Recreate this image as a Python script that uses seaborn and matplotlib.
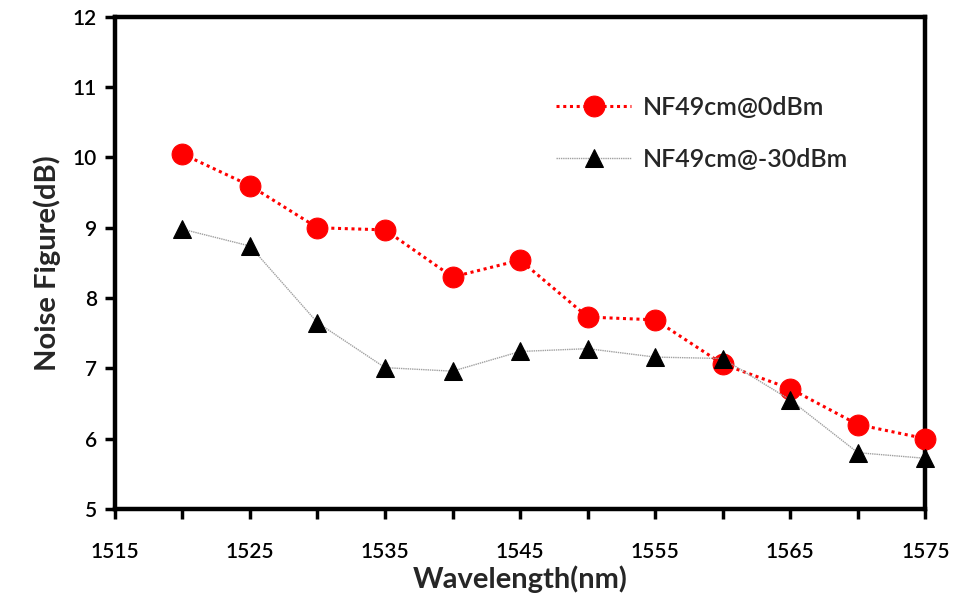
import matplotlib
matplotlib.use("Agg")
import matplotlib.pyplot as plt
import seaborn as sns
import pandas as pd
from matplotlib.ticker import MultipleLocator, FuncFormatter

wavelength = [1520, 1525, 1530, 1535, 1540, 1545, 1550, 1555, 1560, 1565, 1570, 1575]
nf_0dbm = [10.05, 9.60, 9.00, 8.97, 8.30, 8.54, 7.73, 7.69, 7.06, 6.71, 6.20, 6.00]
nf_m30dbm = [8.98, 8.74, 7.65, 7.01, 6.96, 7.24, 7.28, 7.16, 7.14, 6.55, 5.80, 5.72]
series_names = ["NF49cm@0dBm", "NF49cm@-30dBm"]

sns.set_theme(style="white")
plt.rcParams["font.family"] = ["Lato", "DejaVu Sans"]
plt.rcParams["font.weight"] = "semibold"

fig = plt.figure(figsize=(9.57, 6.03), dpi=100)
ax = fig.add_axes([0.120, 0.156, 0.847, 0.816])

df0 = pd.DataFrame({"wl": wavelength, "nf": nf_0dbm})
df1 = pd.DataFrame({"wl": wavelength, "nf": nf_m30dbm})

sns.lineplot(data=df0, x="wl", y="nf", ax=ax, color="#ff0000", linestyle=(0, (1, 1.2)),
             linewidth=2.2, marker="o", markersize=15, markeredgecolor="#ff0000",
             markerfacecolor="#ff0000", label=series_names[0], zorder=3, clip_on=False)
sns.lineplot(data=df1, x="wl", y="nf", ax=ax, color="#a0a0a0", linestyle=(0, (1, 0.6)),
             linewidth=1.0, marker="^", markersize=12.5, markeredgecolor="black",
             markerfacecolor="black", label=series_names[1], zorder=4, clip_on=False)

ax.set_xlim(1515, 1575)
ax.set_ylim(5, 12)
ax.xaxis.set_major_locator(MultipleLocator(5))
ax.xaxis.set_major_formatter(FuncFormatter(lambda v, p: f"{int(round(v))}" if int(round(v - 1515)) % 10 == 0 else ""))
ax.yaxis.set_major_locator(MultipleLocator(1))

for s in ax.spines.values():
    s.set_linewidth(3.2)
    s.set_color("black")

ax.tick_params(axis="both", direction="out", length=7, width=2.5, colors="black",
               labelsize=15, bottom=True, left=True)
ax.tick_params(axis="x", pad=17)
ax.tick_params(axis="y", pad=6)

ax.set_xlabel("Wavelength(nm)", fontsize=21, fontweight="bold", labelpad=2)
ax.set_ylabel("Noise Figure(dB)", fontsize=21, fontweight="bold", labelpad=8)

leg = ax.legend(loc="upper left", bbox_to_anchor=(0.517, 0.885), frameon=False,
                fontsize=18, handlelength=3.0, labelspacing=1.15, handletextpad=0.45)
for t in leg.get_texts():
    t.set_fontweight("semibold")

fig.savefig("out.png", dpi=100)
